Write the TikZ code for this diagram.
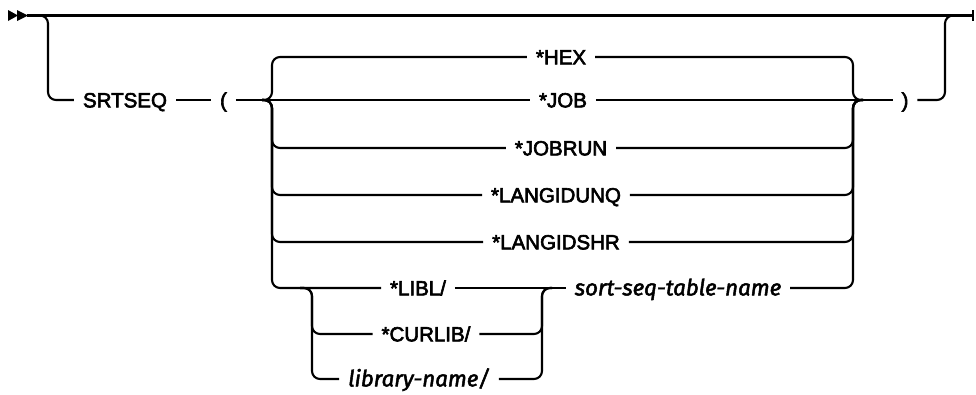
\documentclass[tikz,border=0pt]{standalone}
\usepackage{fontspec}
\setmainfont{Liberation Sans}[UprightFeatures={FakeBold=3}]
\newfontfamily\varfont{Fira Sans}[ItalicFeatures={FakeBold=2.2}]
\begin{document}
\begin{tikzpicture}[x=1pt,y=-1pt, line width=2.1pt,
  rr/.style={rounded corners=8pt},
  kw/.style={inner xsep=8pt, inner ysep=0pt, text height=14.7pt, text depth=0pt,
    font=\fontsize{20.5}{25}\selectfont},
  var/.style={kw, font=\varfont\fontsize{22.3}{25}\selectfont\itshape}]
\useasboundingbox (0,0) rectangle (976,394);

% start / end marks
\fill (8,10) -- (18,15.5) -- (8,21) -- cycle;
\fill (17,10) -- (28,15.5) -- (17,21) -- cycle;
\coordinate (start) at (27,15.5);
\coordinate (end) at (973,15.5);
\draw (start) -- (end);
\draw[line width=2.6pt] (973,10) -- (973,21);

% nodes
\node[kw] (srtseq) at (125,100) {SRTSEQ};
\node[kw] (lp) at (223.5,100) {(};
\node[kw] (hex) at (561,57) {*HEX};
\node[kw] (job) at (563,100) {*JOB};
\node[kw] (jobrun) at (561,148) {*JOBRUN};
\node[kw] (unq) at (556,195) {*LANGIDUNQ};
\node[kw] (shr) at (556,242) {*LANGIDSHR};
\node[kw] (libl) at (418,288) {*LIBL/};
\node[kw] (curlib) at (426,334) {*CURLIB/};
\node[var] (libname) at (419,379) {library-name/};
\node[var] (sortseq) at (678,288) {sort-seq-table-name};
\node[kw] (rp) at (905,100) {)};

% junction coordinates
\coordinate (b0) at (37,15.5);
\coordinate (b1) at (48,15.5);
\coordinate (jl0) at (262,100);
\coordinate (jl) at (272,100);
\coordinate (jr) at (853,100);
\coordinate (jr0) at (863,100);
\coordinate (il0) at (300,288);
\coordinate (il) at (312,288);
\coordinate (ir) at (542,288);
\coordinate (ir0) at (552,288);
\coordinate (eb) at (945,15.5);
\coordinate (e0) at (955,15.5);

% optional branch
\draw[rr] (b0) -- (b1) |- (srtseq.west);
\draw (srtseq.east) -- (lp.west);
\draw (lp.east) -- (job.west);
\draw (job.east) -- (rp.west);
\draw[rr] (rp.east) -| (eb) -- (e0);

% left brace
\foreach \n in {hex,jobrun,unq,shr,libl}
  \draw[rr] (jl0) -- (jl) |- (\n.west);
% right brace
\foreach \n in {hex,jobrun,unq,shr,sortseq}
  \draw[rr] (\n.east) -| (jr) -- (jr0);

% inner choice
\foreach \n in {curlib,libname}{
  \draw[rr] (il0) -- (il) |- (\n.west);
  \draw[rr] (\n.east) -| (ir) -- (ir0);
}
\draw (libl.east) -- (sortseq.west);
\end{tikzpicture}
\end{document}
